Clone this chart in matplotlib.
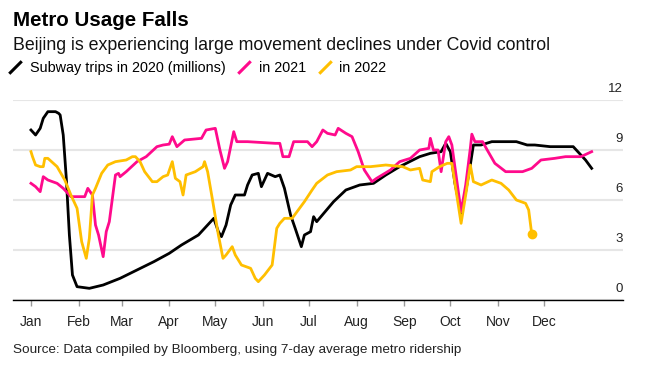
import matplotlib
matplotlib.use('Agg')
import matplotlib.pyplot as plt
from matplotlib.lines import Line2D

plt.rcParams['font.family'] = ['Liberation Sans', 'DejaVu Sans']

# days since Jan 1 and subway trips (millions)
days_2020 = [0, 3, 6, 8, 11, 16, 18, 19, 21, 23, 25, 27, 30, 38, 47, 58, 69, 80, 90, 98,
             109, 115, 119, 122, 124, 127, 130, 133, 139, 141, 144, 148, 150, 154, 159,
             162, 165, 169, 172, 176, 178, 182, 184, 186, 197, 205, 214, 223, 231, 240,
             253, 260, 267, 270, 273, 276, 280, 283, 286, 288, 293, 300, 304, 316, 323,
             328, 338, 353, 357, 361, 365]
trips_2020 = [10.2, 9.9, 10.3, 10.9, 11.3, 11.3, 11.2, 11.1, 9.9, 7.3, 3.9, 1.5, 0.8, 0.7,
              0.9, 1.3, 1.8, 2.3, 2.8, 3.3, 3.9, 4.5, 4.9, 4.1, 3.8, 4.5, 5.7, 6.3, 6.3,
              6.9, 7.5, 7.6, 6.8, 7.6, 7.4, 7.5, 6.7, 5.1, 4.3, 3.2, 3.9, 4.1, 5.0, 4.7,
              5.9, 6.6, 6.9, 7.0, 7.5, 8.0, 8.6, 8.8, 8.9, 9.4, 8.9, 7.0, 5.2, 6.5, 8.1,
              9.3, 9.3, 9.5, 9.5, 9.5, 9.3, 9.3, 9.2, 9.2, 8.8, 8.4, 7.9]

days_2021 = [0, 3, 6, 8, 11, 17, 21, 26, 29, 35, 37, 40, 42, 44, 47, 49, 51, 55, 57, 58,
             62, 69, 75, 82, 86, 90, 92, 95, 100, 111, 114, 120, 123, 126, 128, 132, 134,
             141, 159, 162, 164, 168, 171, 180, 183, 186, 190, 193, 198, 200, 205, 209,
             213, 217, 222, 225, 234, 240, 247, 253, 259, 260, 262, 265, 267, 270, 272,
             274, 280, 283, 286, 287, 289, 294, 297, 302, 309, 315, 320, 326, 332, 341,
             348, 358, 365]
trips_2021 = [7.0, 6.8, 6.5, 7.4, 7.2, 7.0, 6.7, 6.2, 6.2, 6.2, 6.7, 6.3, 4.5, 3.9, 2.6,
              4.1, 4.7, 7.5, 7.6, 7.4, 7.7, 8.3, 8.6, 9.2, 9.3, 9.35, 9.8, 9.2, 9.6, 9.7,
              10.2, 10.3, 9.0, 7.9, 8.3, 10.1, 9.5, 9.5, 9.4, 9.4, 8.6, 8.6, 9.5, 9.5,
              9.2, 9.5, 10.2, 10.0, 9.9, 10.3, 10.0, 9.8, 8.9, 7.8, 7.1, 7.3, 7.8, 8.3,
              8.5, 9.0, 9.1, 9.7, 9.0, 9.0, 7.7, 9.5, 9.8, 9.3, 5.3, 6.9, 9.1, 9.95, 9.5,
              9.5, 9.0, 8.2, 7.7, 7.7, 7.7, 7.9, 8.4, 8.5, 8.6, 8.6, 8.9]

days_2022 = [0, 1, 3, 6, 8, 9, 11, 17, 22, 26, 30, 33, 36, 38, 40, 42, 46, 50, 55, 62,
             66, 68, 71, 74, 79, 82, 86, 89, 92, 94, 97, 99, 101, 107, 112, 113, 115,
             118, 122, 125, 127, 131, 133, 137, 143, 146, 148, 152, 157, 160, 162, 165,
             170, 174, 178, 183, 186, 193, 199, 208, 212, 221, 231, 242, 247, 253, 255,
             260, 261, 266, 271, 274, 280, 283, 286, 288, 293, 300, 306, 311, 316, 322,
             324, 326]
trips_2022 = [8.9, 8.6, 8.1, 8.0, 8.0, 8.5, 8.5, 8.0, 7.2, 6.3, 5.5, 3.5, 2.5, 3.7, 6.3,
              6.7, 7.6, 8.1, 8.3, 8.4, 8.6, 8.6, 8.3, 7.7, 7.1, 7.1, 7.4, 7.5, 8.3, 7.3,
              7.1, 6.3, 7.5, 7.7, 8.0, 8.3, 7.7, 6.1, 3.9, 2.5, 2.7, 3.2, 2.7, 2.1, 1.9,
              1.3, 1.1, 1.5, 2.1, 4.3, 4.6, 4.9, 4.9, 5.4, 5.9, 6.6, 7.0, 7.5, 7.7, 7.8,
              8.0, 8.0, 8.1, 8.0, 7.8, 7.9, 7.2, 7.1, 7.7, 8.0, 8.2, 8.2, 4.6, 6.3, 8.1,
              7.1, 6.9, 7.2, 7.0, 6.6, 6.0, 5.8, 5.4, 3.95]

month_starts = [0, 31, 59, 90, 120, 151, 181, 212, 243, 273, 304, 334]
month_labels = ['Jan', 'Feb', 'Mar', 'Apr', 'May', 'Jun', 'Jul', 'Aug', 'Sep', 'Oct', 'Nov', 'Dec']
y_ticks = [0, 3, 6, 9, 12]

black = '#000000'
pink = '#ff0a8c'
yellow = '#ffbf00'

W, H = 651, 371
fig = plt.figure(figsize=(W / 100, H / 100), dpi=100)
ax = fig.add_axes([13 / W, 1 - 300 / H, 610 / W, 200 / H])

ax.plot(days_2020, trips_2020, color=black, lw=2.0, solid_joinstyle='round')
ax.plot(days_2021, trips_2021, color=pink, lw=2.0, solid_joinstyle='round')
ax.plot(days_2022, trips_2022, color=yellow, lw=2.0, solid_joinstyle='round')
ax.plot(days_2022[-1:], trips_2022[-1:], 'o', color=yellow, ms=6)

ax.set_xlim(-11.7, 385.4)
ax.set_ylim(0, 12)

for s in ['top', 'right', 'left']:
    ax.spines[s].set_visible(False)
ax.spines['bottom'].set_color('black')
ax.spines['bottom'].set_linewidth(1.0)
ax.spines['bottom'].set_zorder(5)

ax.set_yticks(y_ticks)
ax.tick_params(axis='y', left=False, labelleft=False)
ax.yaxis.grid(True, color='#e6e6e6', lw=1.5)
ax.set_axisbelow(True)
for v in y_ticks:
    ax.annotate(str(v), xy=(1, v), xycoords=('axes fraction', 'data'),
                xytext=(0, 6), textcoords='offset points', ha='right', va='baseline',
                fontsize=9.5, color='#222222', annotation_clip=False)

ax.set_xticks(month_starts)
ax.set_xticklabels(month_labels)
ax.tick_params(axis='x', direction='out', length=4, width=1.0, color='#999999',
               pad=7, labelsize=10, labelcolor='#222222')

fig.text(13 / W, 1 - 26 / H, 'Metro Usage Falls', fontsize=14.8, fontweight='bold',
         va='baseline', ha='left')
fig.text(13 / W, 1 - 50 / H, 'Beijing is experiencing large movement declines under Covid control',
         fontsize=12.8, va='baseline', ha='left', color='#111111')

slash = [(-1, -1), (1, 1)]
handles = [Line2D([], [], color=c, marker=slash, linestyle='None', markersize=9,
                  markeredgewidth=2.2) for c in (black, pink, yellow)]
fig.legend(handles, ['Subway trips in 2020 (millions)', 'in 2021', 'in 2022'],
           loc='upper left', bbox_to_anchor=(8 / W, 1 - 61 / H), ncol=3, frameon=False,
           fontsize=10.4, handlelength=1.0, handletextpad=0.5, columnspacing=0.8,
           borderpad=0, borderaxespad=0)

fig.text(13 / W, 1 - 353 / H, 'Source: Data compiled by Bloomberg, using 7-day average metro ridership',
         fontsize=9.7, va='baseline', ha='left', color='#222222')

fig.savefig('out.png', dpi=100)
